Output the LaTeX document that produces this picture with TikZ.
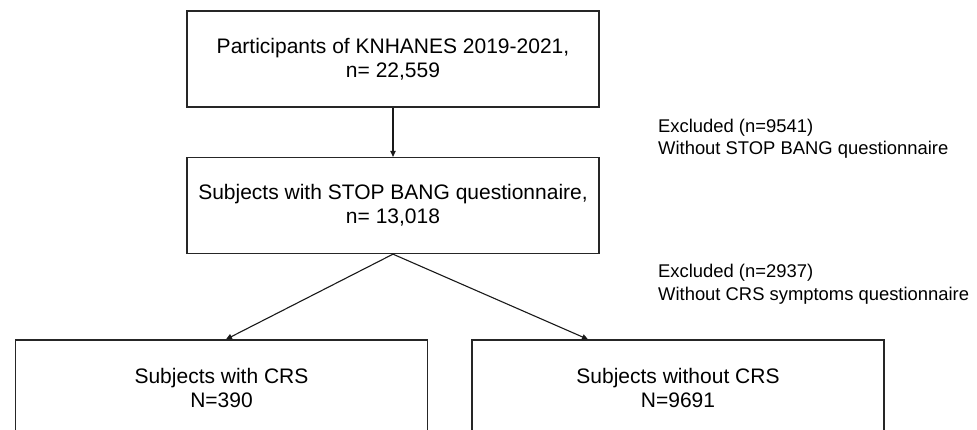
\documentclass[tikz,border=0pt]{standalone}
\usepackage{fontspec}
\setmainfont{Liberation Sans}
\usetikzlibrary{arrows.meta}
\begin{document}
\begin{tikzpicture}[x=1pt,y=-1pt,
  box/.style={draw=black!85, line width=1.3pt, minimum width=412pt, minimum height=96pt,
    inner sep=0pt, align=center, font=\fontsize{21}{24}\selectfont, text=black},
  note/.style={align=left, anchor=west, inner sep=0pt,
    font=\fontsize{18.4}{22.5}\selectfont, text=black},
  arr/.style={draw=black!90, line width=1.1pt, -{Triangle[length=6pt,width=5.5pt]}}]
\useasboundingbox (0,0) rectangle (977,429);
\clip (0,0) rectangle (977,429);
\node[box] (p) at (393,59) {Participants of KNHANES 2019-2021,\\n= 22,559};
\node[box] (s) at (393,205.5) {Subjects with STOP BANG questionnaire,\\n= 13,018};
\node[box] (l) at (221.5,388) {Subjects with CRS\\N=390};
\node[box] (r) at (678,388) {Subjects without CRS\\N=9691};
\node[note] (e1) at (658,138.5) {Excluded (n=9541)\\Without STOP BANG questionnaire};
\node[note] (e2) at (658,284) {Excluded (n=2937)\\Without CRS symptoms questionnaire};
\draw[arr] (p.south) -- (s.north);
\draw[arr] (s.south) -- ([xshift=4.5pt]l.north);
\draw[arr] (s.south) -- ([xshift=-90pt]r.north);
\end{tikzpicture}
\end{document}
